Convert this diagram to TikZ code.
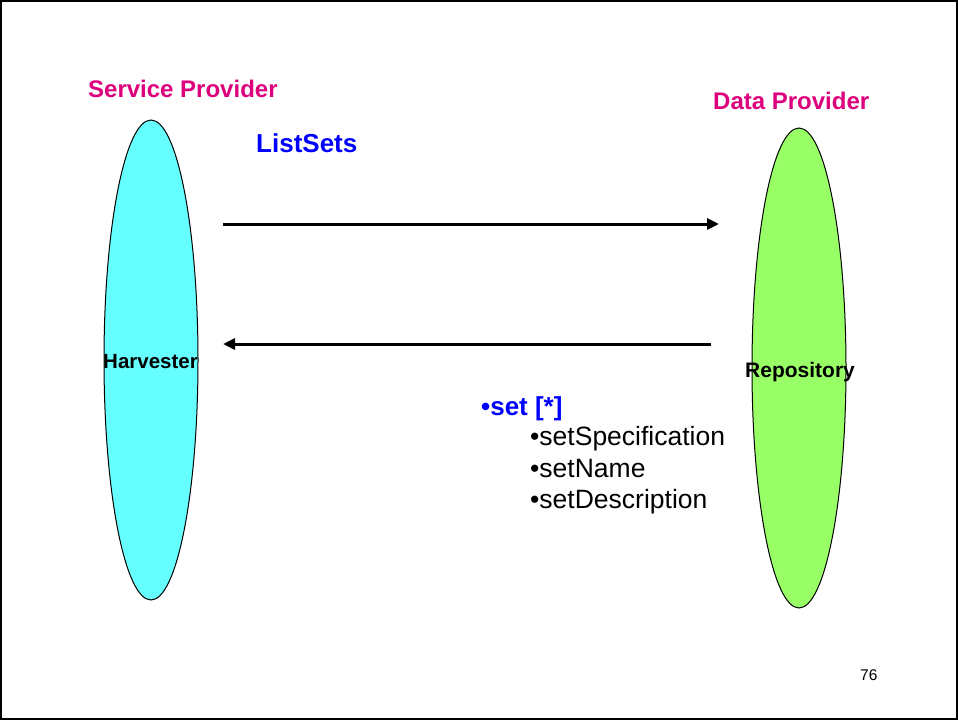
\documentclass[tikz,border=0pt]{standalone}
\usepackage{fontspec}
\setmainfont{Liberation Sans}
\usetikzlibrary{arrows.meta}
\definecolor{provmag}{RGB}{221,0,125}
\definecolor{hvcyan}{RGB}{102,255,255}
\definecolor{repgreen}{RGB}{153,255,102}
\definecolor{lblblue}{RGB}{0,0,255}
\begin{document}
\begin{tikzpicture}[x=1pt,y=-1pt,
  lbl/.style={inner sep=0pt,anchor=base west},
  provlbl/.style={lbl,text=provmag,font=\fontsize{24}{28}\selectfont\bfseries},
  msg/.style={line width=3pt,-{Triangle[length=12pt,width=11pt]}},
  item/.style={lbl,font=\fontsize{26.5}{30}\selectfont}]
\useasboundingbox (0,0) rectangle (958,720);
\draw[line width=2pt] (1,1) rectangle (957,719);
% ellipses
\draw[fill=hvcyan,line width=1pt] (151,360) ellipse [x radius=47, y radius=240];
\draw[fill=repgreen,line width=1pt] (799,368) ellipse [x radius=47, y radius=240];
% labels
\node[provlbl] (sp) at (88,97) {Service Provider};
\node[provlbl] (dp) at (713,109) {Data Provider};
\node[lbl,text=lblblue,font=\fontsize{26}{30}\selectfont\bfseries] (ls) at (256,152) {ListSets};
\node[lbl,font=\fontsize{20.5}{24}\selectfont\bfseries] (hv) at (103,368) {Harvester};
\node[lbl,font=\fontsize{21}{24}\selectfont\bfseries] (rp) at (745,377) {Repository};
% arrows
\coordinate (a1s) at (223,224);
\coordinate (a1e) at (719,224);
\coordinate (a2s) at (711,344);
\coordinate (a2e) at (223,344);
\draw[msg] (a1s) -- (a1e);
\draw[msg] (a2s) -- (a2e);
% response
\node[lbl,text=lblblue,font=\fontsize{26}{30}\selectfont\bfseries] (st) at (481,415) {•set [*]};
\node[item] (i1) at (530,445) {•setSpecification};
\node[item] (i2) at (530,477) {•setName};
\node[item] (i3) at (530,508) {•setDescription};
\node[lbl,font=\fontsize{15.5}{18}\selectfont] (pg) at (860,680) {76};
\end{tikzpicture}
\end{document}
